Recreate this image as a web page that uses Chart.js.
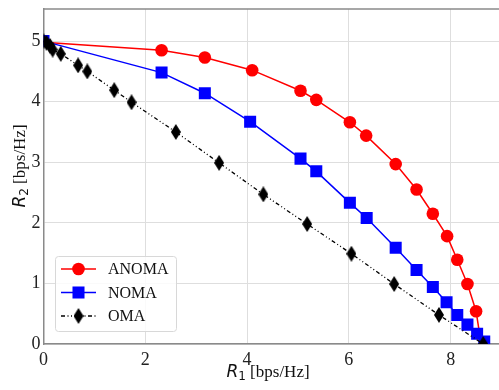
<!DOCTYPE html>
<html>
<head>
<meta charset="utf-8">
<script src="https://cdn.jsdelivr.net/npm/chart.js@4.4.1/dist/chart.umd.min.js"></script>
<style>
	html, body { margin: 0; padding: 0; background: #fff; }
	#wrap { width: 499px; height: 390px; }
</style>
</head>
<body>
<div id="wrap"><canvas id="region" width="499" height="390"></canvas></div>
<script>
// values (R1, R2 in bps/Hz)
const anomaR1 = [0, 2.32, 3.17, 4.1, 5.05, 5.36, 6.02, 6.34, 6.92, 7.33, 7.65, 7.93, 8.13, 8.33, 8.5, 8.6];
const anomaR2 = [4.98, 4.85, 4.73, 4.52, 4.18, 4.03, 3.66, 3.44, 2.97, 2.55, 2.15, 1.78, 1.39, 0.99, 0.54, 0];
const nomaR1 = [0, 2.32, 3.17, 4.06, 5.05, 5.36, 6.02, 6.35, 6.92, 7.33, 7.65, 7.92, 8.13, 8.33, 8.52, 8.66];
const nomaR2 = [5.0, 4.48, 4.14, 3.67, 3.06, 2.85, 2.33, 2.08, 1.59, 1.22, 0.94, 0.69, 0.48, 0.32, 0.17, 0.04];
const omaR1 = [0, 0.06, 0.13, 0.18, 0.34, 0.68, 0.86, 1.39, 1.73, 2.6, 3.45, 4.32, 5.18, 6.05, 6.89, 7.77, 8.64];
const omaR2 = [5.0, 4.97, 4.92, 4.86, 4.79, 4.6, 4.5, 4.19, 3.99, 3.5, 2.99, 2.47, 1.98, 1.49, 0.99, 0.48, 0];
const seriesNames = ["ANOMA", "NOMA", "OMA"];
const xTicks = [0, 2, 4, 6, 8];
const yTicks = [0, 1, 2, 3, 4, 5];

const toPoints = (xs, ys) => xs.map((x, i) => ({ x, y: ys[i] }));

// tall thin diamond, like matplotlib's "d" marker
function makeDiamond(w, h, color) {
	const c = document.createElement("canvas");
	c.width = w;
	c.height = h;
	const g = c.getContext("2d");
	g.fillStyle = color;
	g.beginPath();
	g.moveTo(w / 2, 0);
	g.lineTo(w, h / 2);
	g.lineTo(w / 2, h);
	g.lineTo(0, h / 2);
	g.closePath();
	g.fill();
	return c;
}
const diamond = makeDiamond(10, 16, "#000");
const legendRadius = [6.3, 8.5, 6];

const frame = {
	id: "frame",
	beforeDatasetsDraw(chart) {
		const { ctx, chartArea: a } = chart;
		ctx.save();
		ctx.strokeStyle = "#8a8a8a";
		ctx.lineWidth = 1.5;
		ctx.beginPath();
		ctx.moveTo(a.left, a.top);
		ctx.lineTo(a.right, a.top);
		ctx.stroke();
		ctx.restore();
	},
};

const insideLegend = {
	id: "insideLegend",
	afterDatasetsDraw(chart) {
		const ctx = chart.ctx;
		ctx.save();
		ctx.fillStyle = "rgba(255,255,255,0.85)";
		ctx.strokeStyle = "#d8d8d8";
		ctx.lineWidth = 1;
		ctx.beginPath();
		ctx.roundRect(55.5, 256.5, 121, 75, 3);
		ctx.fill();
		ctx.stroke();
		chart.data.datasets.forEach((ds, i) => {
			const y = 269 + i * 23.5;
			ctx.strokeStyle = ds.borderColor;
			ctx.lineWidth = ds.borderWidth;
			ctx.setLineDash(ds.borderDash || []);
			ctx.beginPath();
			ctx.moveTo(61, y);
			ctx.lineTo(96, y);
			ctx.stroke();
			ctx.setLineDash([]);
			ctx.fillStyle = ds.pointBackgroundColor;
			Chart.helpers.drawPoint(ctx, { pointStyle: ds.pointStyle, radius: legendRadius[i], rotation: 0, borderWidth: 0 }, 78.5, y);
			ctx.fillStyle = "#111";
			ctx.font = "16px 'Liberation Serif'";
			ctx.textBaseline = "middle";
			ctx.textAlign = "left";
			ctx.fillText(ds.label, 108, y + 1);
		});
		ctx.restore();
	},
};

// R1 / R2 axis titles: italic sans R with subscript, serif unit
function drawRateTitle(ctx, idx, cx, baseline) {
	const parts = [
		{ t: "R", f: "italic 17px 'DejaVu Sans'", dy: 0 },
		{ t: idx, f: "12px 'DejaVu Sans'", dy: 3 },
		{ t: " [bps/Hz]", f: "17px 'Liberation Serif'", dy: 0 },
	];
	let total = 0;
	parts.forEach((p) => {
		ctx.font = p.f;
		p.w = ctx.measureText(p.t).width;
		total += p.w;
	});
	let x = cx - total / 2;
	parts.forEach((p) => {
		ctx.font = p.f;
		ctx.fillText(p.t, x, baseline + p.dy);
		x += p.w;
	});
}

const axisTitles = {
	id: "axisTitles",
	afterDraw(chart) {
		const ctx = chart.ctx;
		ctx.save();
		ctx.fillStyle = "#111";
		ctx.textBaseline = "alphabetic";
		ctx.textAlign = "left";
		drawRateTitle(ctx, "1", 268, 377);
		ctx.translate(25, 166);
		ctx.rotate(-Math.PI / 2);
		drawRateTitle(ctx, "2", 0, 0);
		ctx.restore();
	},
};

const canvas = document.getElementById("region");
const ctx = canvas.getContext("2d");

new Chart(ctx, {
	type: "line",
	data: {
		datasets: [
			{
				label: seriesNames[0],
				data: toPoints(anomaR1, anomaR2),
				borderColor: "#ff0000",
				backgroundColor: "#ff0000",
				pointBackgroundColor: "#ff0000",
				borderWidth: 1.5,
				pointStyle: "circle",
				pointRadius: (c) => (c.dataIndex === 0 || c.dataIndex === anomaR1.length - 1 ? 0 : 6.3),
				pointBorderWidth: 0,
				order: 2,
			},
			{
				label: seriesNames[1],
				data: toPoints(nomaR1, nomaR2),
				borderColor: "#0000ff",
				backgroundColor: "#0000ff",
				pointBackgroundColor: "#0000ff",
				borderWidth: 1.5,
				pointStyle: "rect",
				pointRadius: 8.5,
				pointBorderWidth: 0,
				order: 1,
			},
			{
				label: seriesNames[2],
				data: toPoints(omaR1, omaR2),
				borderColor: "#000000",
				backgroundColor: "#000000",
				pointBackgroundColor: "#000000",
				borderWidth: 1.3,
				borderDash: [4, 2.5, 1, 2.5, 1, 2.5],
				pointStyle: diamond,
				pointRadius: 6,
				pointBorderWidth: 0,
				order: 0,
			},
		],
	},
	options: {
		responsive: false,
		animation: false,
		events: [],
		layout: { autoPadding: false, padding: { top: 9, right: 0, left: 0, bottom: 0 } },
		elements: { line: { tension: 0, fill: false } },
		datasets: { line: { clip: 0 } },
		plugins: {
			legend: { display: false },
			tooltip: { enabled: false },
		},
		scales: {
			x: {
				type: "linear",
				min: 0,
				max: 8.95,
				afterBuildTicks: (s) => { s.ticks = xTicks.map((v) => ({ value: v })); },
				afterFit: (s) => {
					s.height = 46;
					s.paddingLeft = 0;
					s.paddingRight = 0;
				},
				grid: { color: "#dedede", lineWidth: 1, drawTicks: false },
				border: { color: "#8a8a8a", width: 1.5 },
				ticks: { padding: 5, color: "#222", font: { family: "'Liberation Serif'", size: 18 } },
			},
			y: {
				type: "linear",
				min: 0,
				max: 5.53,
				afterBuildTicks: (s) => { s.ticks = yTicks.map((v) => ({ value: v })); },
				afterFit: (s) => {
					s.width = 43.5;
					s.paddingTop = 0;
					s.paddingBottom = 0;
				},
				grid: { color: "#dedede", lineWidth: 1, drawTicks: false },
				border: { color: "#8a8a8a", width: 1.5 },
				ticks: { padding: 3, color: "#222", font: { family: "'Liberation Serif'", size: 18 } },
			},
		},
	},
	plugins: [frame, insideLegend, axisTitles],
});
</script>
</body>
</html>
